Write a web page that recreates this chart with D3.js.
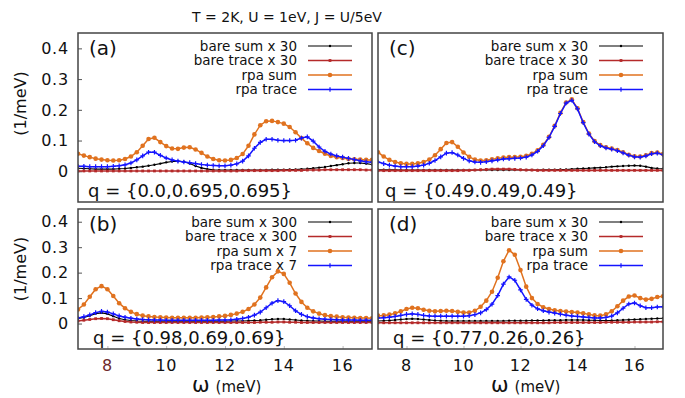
<!DOCTYPE html>
<html><head><meta charset="utf-8">
<script src="https://cdn.jsdelivr.net/npm/d3@7"></script>
<style>html,body{margin:0;padding:0;background:#fff;}svg{display:block;font-family:"DejaVu Sans",sans-serif;}</style>
</head><body><svg id="chart" width="685" height="398"></svg>
<script>
// ---------- data ----------
const omega = [7.0,7.2,7.4,7.6,7.8,8.0,8.2,8.4,8.6,8.8,9.0,9.2,9.4,9.6,9.8,10.0,10.2,10.4,10.6,10.8,11.0,11.2,11.4,11.6,11.8,12.0,12.2,12.4,12.6,12.8,13.0,13.2,13.4,13.6,13.8,14.0,14.2,14.4,14.6,14.8,15.0,15.2,15.4,15.6,15.8,16.0,16.2,16.4,16.6,16.8,17.0];

const aBareSum = [0.010,0.009,0.008,0.007,0.007,0.007,0.007,0.008,0.009,0.011,0.013,0.015,0.018,0.021,0.025,0.029,0.032,0.033,0.031,0.025,0.017,0.011,0.007,0.005,0.004,0.004,0.004,0.004,0.004,0.004,0.004,0.004,0.004,0.005,0.005,0.005,0.006,0.006,0.007,0.008,0.010,0.012,0.014,0.017,0.020,0.023,0.026,0.027,0.027,0.025,0.022];
const aBareTrace = [0.001,0.001,0.001,0.001,0.001,0.001,0.001,0.001,0.001,0.001,0.001,0.001,0.001,0.001,0.001,0.001,0.001,0.001,0.001,0.001,0.001,0.001,0.001,0.001,0.001,0.001,0.001,0.001,0.002,0.002,0.002,0.002,0.002,0.002,0.002,0.003,0.003,0.003,0.003,0.004,0.004,0.004,0.005,0.005,0.005,0.005,0.005,0.005,0.005,0.004,0.004];
const aRpaSum = [0.057,0.051,0.046,0.041,0.038,0.036,0.035,0.036,0.040,0.048,0.062,0.083,0.105,0.109,0.095,0.082,0.074,0.073,0.077,0.078,0.071,0.060,0.048,0.040,0.036,0.035,0.037,0.043,0.056,0.083,0.120,0.150,0.163,0.164,0.160,0.155,0.144,0.127,0.108,0.091,0.076,0.066,0.057,0.050,0.046,0.043,0.040,0.039,0.038,0.037,0.037];
const aRpaTrace = [0.016,0.016,0.015,0.015,0.015,0.015,0.016,0.018,0.021,0.027,0.037,0.050,0.062,0.062,0.052,0.043,0.037,0.033,0.030,0.028,0.025,0.022,0.020,0.019,0.018,0.018,0.020,0.024,0.033,0.050,0.075,0.094,0.104,0.104,0.101,0.100,0.100,0.101,0.108,0.112,0.098,0.079,0.065,0.056,0.050,0.046,0.042,0.038,0.034,0.031,0.029];

const bBareSum = [0.020,0.024,0.031,0.039,0.042,0.038,0.029,0.020,0.015,0.012,0.010,0.009,0.009,0.009,0.009,0.009,0.009,0.009,0.009,0.009,0.009,0.009,0.009,0.009,0.009,0.009,0.010,0.010,0.010,0.011,0.012,0.013,0.015,0.017,0.018,0.018,0.016,0.014,0.012,0.011,0.010,0.010,0.009,0.009,0.009,0.009,0.009,0.009,0.009,0.009,0.009];
const bBareTrace = [0.010,0.013,0.016,0.019,0.020,0.019,0.015,0.011,0.008,0.006,0.005,0.004,0.004,0.004,0.004,0.004,0.004,0.004,0.004,0.004,0.004,0.004,0.004,0.004,0.004,0.004,0.004,0.004,0.004,0.004,0.004,0.005,0.005,0.005,0.006,0.006,0.005,0.005,0.004,0.004,0.004,0.004,0.004,0.004,0.004,0.004,0.004,0.004,0.004,0.004,0.004];
const bRpaSum = [0.055,0.075,0.105,0.135,0.147,0.135,0.108,0.080,0.060,0.046,0.037,0.031,0.028,0.026,0.025,0.024,0.023,0.023,0.023,0.023,0.023,0.024,0.025,0.026,0.028,0.030,0.034,0.039,0.046,0.057,0.075,0.102,0.142,0.182,0.205,0.195,0.160,0.118,0.085,0.062,0.048,0.039,0.033,0.029,0.027,0.025,0.024,0.023,0.022,0.022,0.021];
const bRpaTrace = [0.022,0.027,0.034,0.043,0.048,0.045,0.038,0.030,0.025,0.021,0.018,0.016,0.015,0.014,0.014,0.013,0.013,0.013,0.013,0.013,0.013,0.013,0.013,0.013,0.014,0.014,0.015,0.017,0.020,0.025,0.033,0.045,0.062,0.080,0.090,0.086,0.070,0.050,0.036,0.027,0.022,0.019,0.017,0.016,0.015,0.014,0.014,0.014,0.013,0.013,0.013];

const cBareSum = [0.005,0.005,0.005,0.005,0.004,0.004,0.004,0.004,0.004,0.004,0.004,0.004,0.004,0.004,0.004,0.004,0.004,0.004,0.004,0.004,0.004,0.004,0.004,0.004,0.004,0.004,0.004,0.004,0.004,0.005,0.005,0.005,0.006,0.006,0.007,0.008,0.009,0.010,0.011,0.012,0.013,0.015,0.016,0.017,0.018,0.019,0.018,0.015,0.011,0.009,0.008];
const cBareTrace = [0.002,0.002,0.002,0.002,0.002,0.002,0.002,0.002,0.002,0.002,0.002,0.002,0.002,0.002,0.002,0.003,0.003,0.004,0.005,0.006,0.007,0.007,0.007,0.007,0.006,0.005,0.004,0.004,0.003,0.003,0.003,0.003,0.003,0.003,0.003,0.003,0.003,0.003,0.003,0.003,0.003,0.003,0.003,0.003,0.003,0.003,0.003,0.003,0.003,0.003,0.003];
const cRpaSum = [0.062,0.048,0.037,0.030,0.026,0.024,0.024,0.026,0.030,0.038,0.052,0.072,0.092,0.095,0.080,0.061,0.047,0.038,0.035,0.036,0.039,0.042,0.045,0.046,0.046,0.047,0.050,0.057,0.068,0.086,0.112,0.148,0.190,0.224,0.234,0.205,0.160,0.123,0.098,0.085,0.078,0.074,0.069,0.062,0.054,0.049,0.048,0.052,0.059,0.061,0.056];
const cRpaTrace = [0.030,0.025,0.020,0.017,0.015,0.015,0.015,0.017,0.020,0.026,0.035,0.047,0.059,0.061,0.053,0.042,0.034,0.030,0.029,0.031,0.034,0.037,0.040,0.041,0.042,0.043,0.046,0.053,0.065,0.083,0.110,0.146,0.188,0.222,0.231,0.203,0.158,0.121,0.096,0.083,0.076,0.072,0.067,0.060,0.052,0.047,0.046,0.050,0.057,0.059,0.054];

const dBareSum = [0.010,0.011,0.012,0.014,0.016,0.018,0.019,0.018,0.016,0.014,0.012,0.011,0.010,0.010,0.010,0.010,0.010,0.010,0.010,0.010,0.010,0.010,0.010,0.011,0.011,0.011,0.011,0.012,0.012,0.012,0.013,0.013,0.013,0.014,0.014,0.014,0.014,0.013,0.013,0.012,0.012,0.012,0.013,0.014,0.015,0.016,0.017,0.018,0.019,0.020,0.021];
const dBareTrace = [0.003,0.003,0.003,0.003,0.003,0.003,0.003,0.003,0.003,0.003,0.003,0.003,0.003,0.003,0.003,0.003,0.003,0.003,0.003,0.003,0.003,0.003,0.003,0.003,0.003,0.003,0.003,0.003,0.003,0.003,0.003,0.004,0.004,0.004,0.004,0.004,0.004,0.004,0.004,0.004,0.005,0.005,0.005,0.005,0.005,0.006,0.006,0.006,0.006,0.007,0.007];
const dRpaSum = [0.031,0.032,0.035,0.040,0.048,0.057,0.062,0.060,0.054,0.050,0.048,0.049,0.050,0.049,0.046,0.043,0.043,0.050,0.066,0.090,0.125,0.180,0.245,0.288,0.270,0.210,0.145,0.100,0.077,0.064,0.057,0.052,0.049,0.047,0.045,0.043,0.040,0.036,0.032,0.031,0.036,0.048,0.068,0.090,0.106,0.110,0.100,0.094,0.097,0.104,0.107];
const dRpaTrace = [0.022,0.023,0.025,0.028,0.032,0.036,0.038,0.036,0.032,0.030,0.029,0.029,0.029,0.029,0.029,0.029,0.031,0.035,0.042,0.055,0.076,0.110,0.155,0.183,0.170,0.132,0.095,0.072,0.058,0.050,0.045,0.041,0.037,0.033,0.030,0.028,0.026,0.024,0.022,0.022,0.024,0.029,0.042,0.060,0.077,0.081,0.070,0.062,0.062,0.065,0.066];

const legendStd = ["bare sum x 30","bare trace x 30","rpa sum","rpa trace"];
const legendB = ["bare sum x 300","bare trace x 300","rpa sum x 7","rpa trace x 7"];
const panelTags = ["(a)","(b)","(c)","(d)"];
const qLabels = ["q = {0.0,0.695,0.695}","q = {0.98,0.69,0.69}","q = {0.49.0.49,0.49}","q = {0.77,0.26,0.26}"];
const yTicks = [0,0.1,0.2,0.3,0.4];
const yTickLabels = ["0","0.1","0.2","0.3","0.4"];
const xTicks = [8,10,12,14,16];
const xTickLabels = ["8","10","12","14","16"];
const titleText = "T = 2K, U = 1eV, J = U/5eV";

// ---------- layout / style ----------
const svg = d3.select("#chart");
const colors = ["#000000","#b52a2a","#e0721f","#1414ff"];
const widths = [1.1,1.6,1.5,1.5];
const panels = [
  {tag:0, x0:78, x1:372, y0:33, y1:202, series:[aBareSum,aBareTrace,aRpaSum,aRpaTrace], legend:legendStd, left:true, bottom:false, qx:88},
  {tag:1, x0:78, x1:372, y0:209, y1:349, series:[bBareSum,bBareTrace,bRpaSum,bRpaTrace], legend:legendB, left:true, bottom:true, qx:93},
  {tag:2, x0:378, x1:663, y0:33, y1:202, series:[cBareSum,cBareTrace,cRpaSum,cRpaTrace], legend:legendStd, left:false, bottom:false, qx:385},
  {tag:3, x0:378, x1:663, y0:209, y1:349, series:[dBareSum,dBareTrace,dRpaSum,dRpaTrace], legend:legendStd, left:false, bottom:true, qx:393}
];

svg.append("text").attr("x",287).attr("y",22).attr("text-anchor","middle")
  .attr("font-size",14).attr("fill","#111").text(titleText);

function drawMarker(g, k, x, y) {
  if (k === 0) g.append("circle").attr("cx",x).attr("cy",y).attr("r",1.2).attr("fill",colors[0]);
  else if (k === 1) g.append("rect").attr("x",x-1.4).attr("y",y-1.4).attr("width",2.8).attr("height",2.8).attr("fill",colors[1]);
  else if (k === 2) g.append("circle").attr("cx",x).attr("cy",y).attr("r",2.3).attr("fill",colors[2]);
  else g.append("path").attr("d",`M${x-2.3},${y}H${x+2.3}M${x},${y-2.3}V${y+2.3}`).attr("stroke",colors[3]).attr("stroke-width",1.2);
}

panels.forEach((p, pi) => {
  const xs = d3.scaleLinear().domain([7,17]).range([p.x0,p.x1]);
  const ys = d3.scaleLinear().domain([-0.1,0.45]).range([p.y1,p.y0]);
  const g = svg.append("g");
  const clipId = "clip"+pi;
  svg.append("clipPath").attr("id",clipId).append("rect")
    .attr("x",p.x0).attr("y",p.y0).attr("width",p.x1-p.x0).attr("height",p.y1-p.y0);

  if (p.left) {
    const ax = g.append("g").attr("transform",`translate(${p.x0},0)`)
      .call(d3.axisRight(ys).tickValues(yTicks).tickSize(4).tickFormat(""));
    ax.select(".domain").remove();
    ax.selectAll("line").attr("stroke","#555");
    yTicks.forEach((t,i)=>{
      g.append("text").attr("x",69).attr("y",ys(t)).attr("dy","0.36em").attr("text-anchor","end")
        .attr("font-size",16).attr("letter-spacing",0.8).attr("fill","#111").text(yTickLabels[i]);
    });
  }
  if (p.bottom) {
    const bx = g.append("g").attr("transform",`translate(0,${p.y1})`)
      .call(d3.axisTop(xs).tickValues(xTicks).tickSize(3).tickFormat(""));
    bx.select(".domain").remove();
    bx.selectAll("line").attr("stroke","#bbb");
    xTicks.forEach((t,i)=>{
      g.append("text").attr("x",xs(t)).attr("y",371).attr("text-anchor","middle")
        .attr("font-size",16).attr("letter-spacing",0.6)
        .attr("fill",(pi===1 && i===0)?"#6e2a2a":"#111").text(xTickLabels[i]);
    });
  }

  p.legend.forEach((lab,k)=>{
    const yy = p.y0 + 13 + k*14.5;
    g.append("text").attr("x",p.x1-75).attr("y",yy).attr("dy","0.35em").attr("text-anchor","end")
      .attr("font-size",13.5).attr("fill","#111").text(lab);
    g.append("line").attr("x1",p.x1-64).attr("x2",p.x1-20).attr("y1",yy).attr("y2",yy)
      .attr("stroke",colors[k]).attr("stroke-width",widths[k]);
    drawMarker(g,k,p.x1-42,yy);
  });

  const plot = g.append("g").attr("clip-path",`url(#${clipId})`);
  const line = d3.line().x((d,i)=>xs(omega[i])).y(d=>ys(d));
  p.series.forEach((arr,k)=>{
    plot.append("path").attr("d",line(arr)).attr("fill","none")
      .attr("stroke",colors[k]).attr("stroke-width",widths[k]);
    arr.forEach((v,i)=>drawMarker(plot,k,xs(omega[i]),ys(v)));
  });

  g.append("text").attr("x",p.x0+11).attr("y",p.y0+22).attr("font-size",20).attr("fill","#111").text(panelTags[p.tag]);
  g.append("text").attr("x",p.qx).attr("y",p.y1-5).attr("font-size",18).attr("fill","#111").text(qLabels[p.tag]);

  g.append("rect").attr("x",p.x0).attr("y",p.y0).attr("width",p.x1-p.x0).attr("height",p.y1-p.y0)
    .attr("fill","none").attr("stroke","#444").attr("stroke-width",1.5);

  if (p.left) {
    const cy = (p.y0+p.y1)/2 - (p.bottom ? 10 : 14);
    svg.append("text").attr("transform",`translate(26,${cy}) rotate(-90)`).attr("text-anchor","middle")
      .attr("font-size",16).attr("fill","#111").text("(1/meV)");
  }
  if (p.bottom) {
    const t = svg.append("text").attr("x",p.left?192:491).attr("y",392).attr("fill","#111");
    t.append("tspan").attr("font-size",21).text("ω");
    t.append("tspan").attr("font-size",15).attr("dx",6).text("(meV)");
  }
});
</script></body></html>
